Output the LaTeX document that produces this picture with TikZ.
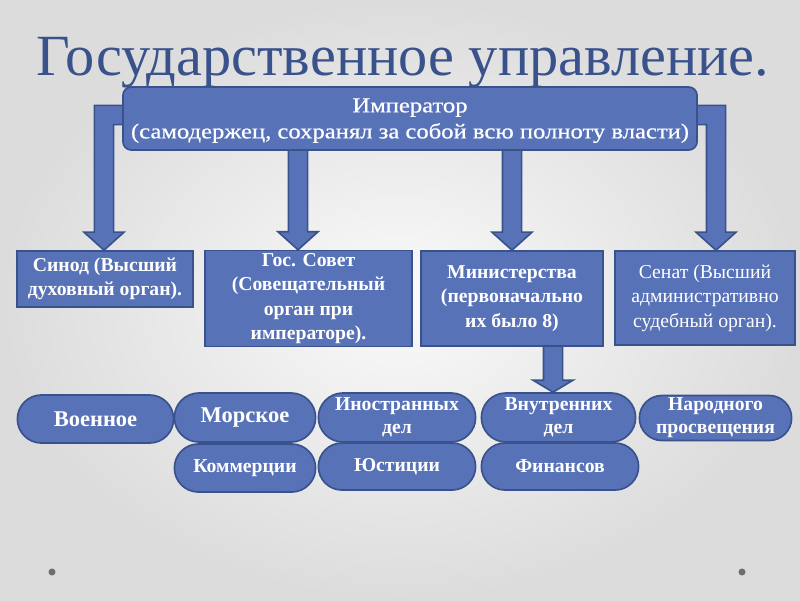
\documentclass[tikz,border=0pt]{standalone}
\usepackage{fontspec}
\setmainfont{Liberation Serif}
\newfontfamily\narrowserif[FakeStretch=1.16,FakeBold=0.6]{Liberation Serif}
\usetikzlibrary{shapes.misc,calc}

\definecolor{boxblue}{RGB}{88,114,184}
\definecolor{boxline}{RGB}{58,82,140}
\definecolor{titleblue}{RGB}{58,82,140}
\definecolor{bgin}{RGB}{250,250,250}
\definecolor{bgout}{RGB}{220,220,220}
\definecolor{dotgray}{RGB}{110,110,110}

\pgfdeclarelayer{background}
\pgfsetlayers{background,main}

\newcommand{\arrsw}{0.24cm}
\newcommand{\arrhw}{0.5cm}
\newcommand{\arrhl}{0.45cm}

% straight block arrow, tip at #3, shaft starts at the height of #2
\newcommand{\blockarrow}[3][0.45cm]{%
  \path[barrow] let \p1=(#2), \p2=(#3) in
    ({\x2-\arrsw},\y1) -- ({\x2-\arrsw},{\y2+#1}) -- ({\x2-\arrhw},{\y2+#1}) -- (\x2,\y2)
    -- ({\x2+\arrhw},{\y2+#1}) -- ({\x2+\arrsw},{\y2+#1}) -- ({\x2+\arrsw},\y1) -- cycle;}

% bent block arrow: out of the side #2, down to #3 (#1 = -1 left, 1 right)
\newcommand{\bentarrow}[3]{%
  \path[barrow] let \p1=(#2), \p2=(#3) in
    (\x1,{\y1+\arrsw}) -- ({\x2+#1*\arrsw},{\y1+\arrsw}) -- ({\x2+#1*\arrsw},{\y2+\arrhl})
    -- ({\x2+#1*\arrhw},{\y2+\arrhl}) -- (\x2,\y2) -- ({\x2-#1*\arrhw},{\y2+\arrhl})
    -- ({\x2-#1*\arrsw},{\y2+\arrhl}) -- ({\x2-#1*\arrsw},{\y1-\arrsw}) -- (\x1,{\y1-\arrsw}) -- cycle;}

\tikzset{
    box/.style={draw=boxline, fill=boxblue, line width=1.2pt, text=white, align=center,
                inner sep=2pt, font=\fontsize{14}{17.3}\selectfont\bfseries},
    boxE/.style={box, rounded corners=6pt, font=\narrowserif\fontsize{15.1}{18.5}\selectfont},
    boxR/.style={box, font=\fontsize{14}{17.5}\selectfont},
    oval/.style={draw=boxline, fill=boxblue, line width=1.2pt, text=white, align=center,
                 rounded rectangle, inner sep=1pt, font=\fontsize{14}{16.5}\selectfont\bfseries},
    ovalL/.style={oval, font=\fontsize{16}{18}\selectfont\bfseries},
    barrow/.style={draw=boxline, fill=boxblue, line width=1.2pt, line join=miter},
}

\begin{document}
\begin{tikzpicture}[x=0.025cm, y=-0.025cm]
    \useasboundingbox (0,0) rectangle (800,600);
    \begin{pgfonlayer}{background}
        \shade[inner color=bgin, outer color=bgout] (0,0) rectangle (800,600);
    \end{pgfonlayer}

    % Title
    \node[font=\fontsize{41.5}{45}\selectfont, text=titleblue, anchor=base] (title) at (403,75)
        {Государственное управление.};

    % Emperor
    \node[boxE, minimum width=14.35cm, minimum height=1.575cm] (emp) at (410,118.5)
        {\rule{0pt}{13pt}Император\\(самодержец, сохранял за собой всю полноту власти)};

    % Second row
    \node[box, minimum width=4.4cm, minimum height=1.4cm] (sinod) at (105,279)
        {Синод (Высший\\духовный орган).};
    \node[box, minimum width=5.175cm, minimum height=2.375cm] (gos) at (308.5,298.5)
        {Гос. Совет\\(Совещательный\\орган при\\императоре).};
    \node[box, minimum width=4.55cm, minimum height=2.375cm] (min) at (512,298.5)
        {Министерства\\(первоначально\\их было 8)};
    \node[boxR, minimum width=4.5cm, minimum height=2.35cm] (senat) at (705,298)
        {Сенат (Высший\\административно\\судебный орган).};

    % Ministries
    \node[ovalL, minimum width=3.975cm, minimum height=1.2cm] (voen) at (95.5,419) {Военное};
    \node[ovalL, minimum width=3.6cm, minimum height=1.225cm] (mor) at (245,417.5) {Морское};
    \node[oval, minimum width=4cm, minimum height=1.225cm] (inos) at (397,417.5) {Иностранных\\дел};
    \node[oval, minimum width=3.925cm, minimum height=1.225cm] (vnut) at (558.5,417.5) {Внутренних\\дел};
    \node[oval, minimum width=3.875cm, minimum height=1.125cm] (nar) at (715.5,418) {Народного\\просвещения};
    \node[oval, minimum width=3.6cm, minimum height=1.2cm] (kom) at (245,468) {Коммерции};
    \node[oval, minimum width=4cm, minimum height=1.175cm] (yust) at (397,466.5) {Юстиции};
    \node[oval, minimum width=4cm, minimum height=1.175cm] (fin) at (560,466.5) {Финансов};

    % Arrows
    \begin{pgfonlayer}{background}
        \bentarrow{-1}{$(emp.west)+(10,-3.5)$}{$(sinod.north)+(-1,0)$}
        \bentarrow{1}{$(emp.east)+(-10,-3.5)$}{$(senat.north)+(11,0)$}
        \blockarrow{$(emp.south)+(0,-5)$}{$(gos.north)+(-10.5,0)$}
        \blockarrow{$(emp.south)+(0,-5)$}{min.north}
        \blockarrow[0.3cm]{$(min.south)+(0,-3)$}{$(vnut.north)+(-5.5,0)$}
    \end{pgfonlayer}

    % Dots
    \fill[dotgray] (52,572) circle (2.5pt);
    \fill[dotgray] (742,572) circle (2.5pt);
\end{tikzpicture}
\end{document}
